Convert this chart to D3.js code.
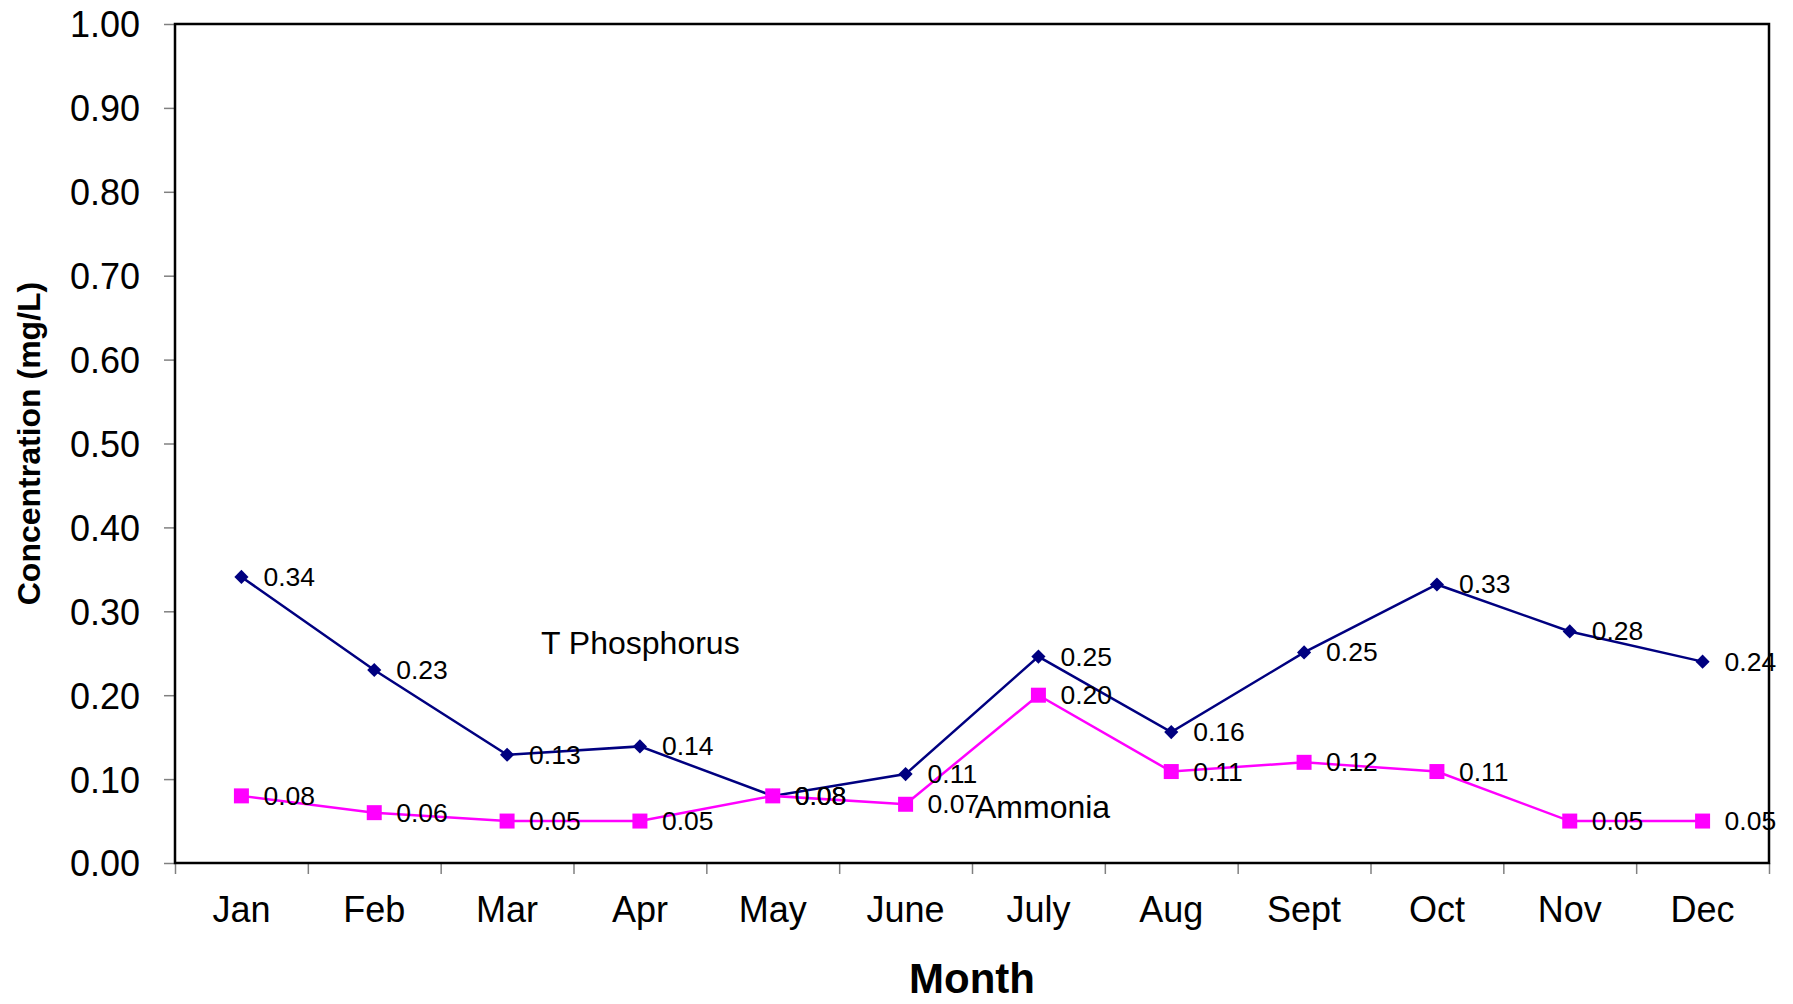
<!DOCTYPE html>
<html>
<head>
<meta charset="utf-8">
<script src="https://cdn.jsdelivr.net/npm/d3@7"></script>
<style>
  body { margin: 0; background: #fff; }
  text { font-family: "Liberation Sans", Arial, sans-serif; fill: #000; }
</style>
</head>
<body>
<div id="chart"></div>
<script>
const months = ["Jan", "Feb", "Mar", "Apr", "May", "June", "July", "Aug", "Sept", "Oct", "Nov", "Dec"];
const phosphorus = [0.341, 0.230, 0.129, 0.139, 0.080, 0.106, 0.246, 0.156, 0.251, 0.332, 0.276, 0.240];
const ammonia = [0.080, 0.060, 0.050, 0.050, 0.080, 0.070, 0.200, 0.109, 0.120, 0.109, 0.050, 0.050];
const yTicks = [0, 0.1, 0.2, 0.3, 0.4, 0.5, 0.6, 0.7, 0.8, 0.9, 1.0];

const width = 1793, height = 1004;
const plot = { left: 175, right: 1769, top: 24, bottom: 863 };

const svg = d3.select("#chart")
  .append("svg")
  .attr("width", width)
  .attr("height", height);

const x = d3.scaleBand()
  .domain(months)
  .range([plot.left, plot.right])
  .paddingInner(0)
  .paddingOuter(0);

const y = d3.scaleLinear()
  .domain([0, 1])
  .range([plot.bottom, plot.top]);

const fmt = d3.format(".2f");
const cx = (d, i) => x(months[i]) + x.bandwidth() / 2;

const series = [
  { name: "T Phosphorus", values: phosphorus, color: "#000080", marker: "diamond" },
  { name: "Ammonia", values: ammonia, color: "#FF00FF", marker: "square" }
];

// lines
const line = d3.line()
  .x(cx)
  .y(d => y(d));

series.forEach(s => {
  svg.append("path")
    .datum(s.values)
    .attr("d", line)
    .attr("fill", "none")
    .attr("stroke", s.color)
    .attr("stroke-width", 2.5);
});

// markers
series.forEach(s => {
  const sym = s.marker === "diamond"
    ? d3.symbol().type(d3.symbolSquare).size(100)
    : d3.symbol().type(d3.symbolSquare).size(225);
  svg.selectAll(".m-" + s.marker)
    .data(s.values)
    .enter()
    .append("path")
    .attr("class", "m-" + s.marker)
    .attr("d", sym)
    .attr("fill", s.color)
    .attr("transform", (d, i) => s.marker === "diamond"
      ? `translate(${cx(d, i)}, ${y(d)}) rotate(45)`
      : `translate(${cx(d, i)}, ${y(d)})`);
});

// data labels
series.forEach(s => {
  svg.selectAll(".lbl-" + s.marker)
    .data(s.values)
    .enter()
    .append("text")
    .attr("class", "lbl-" + s.marker)
    .attr("x", (d, i) => cx(d, i) + 22)
    .attr("y", d => y(d) + 9)
    .style("font-size", "26.5px")
    .text(d => fmt(d));
});

// series names
svg.append("text")
  .attr("x", 541)
  .attr("y", 654)
  .style("font-size", "32px")
  .text("T Phosphorus");

svg.append("text")
  .attr("x", 975)
  .attr("y", 818)
  .style("font-size", "32px")
  .text("Ammonia");

// y axis
const yAxis = svg.append("g")
  .attr("transform", `translate(${plot.left}, 0)`)
  .call(d3.axisLeft(y).tickValues(yTicks).tickSize(11).tickPadding(24).tickFormat(fmt));
yAxis.select(".domain").remove();
yAxis.selectAll(".tick line").attr("stroke", "#808080").attr("stroke-width", 1.5);
yAxis.selectAll(".tick text")
  .style("font-size", "36px")
  .attr("dy", "0.36em")
  .attr("fill", "#000");

// x axis: boundary ticks and month labels
const xb = d3.scaleLinear().domain([0, months.length]).range([plot.left, plot.right]);
const xTicks = svg.append("g")
  .attr("transform", `translate(0, ${plot.bottom})`)
  .call(d3.axisBottom(xb).ticks(months.length).tickSize(11).tickFormat(""));
xTicks.select(".domain").remove();
xTicks.selectAll(".tick line").attr("stroke", "#808080").attr("stroke-width", 1.5);

const xAxis = svg.append("g")
  .attr("transform", `translate(0, ${plot.bottom})`)
  .call(d3.axisBottom(x).tickSize(0).tickPadding(33));
xAxis.select(".domain").remove();
xAxis.selectAll(".tick text")
  .style("font-size", "36px")
  .attr("fill", "#000");

// plot frame
svg.append("rect")
  .attr("x", plot.left)
  .attr("y", plot.top)
  .attr("width", plot.right - plot.left)
  .attr("height", plot.bottom - plot.top)
  .attr("fill", "none")
  .attr("stroke", "#000")
  .attr("stroke-width", 2.5);

// axis titles
svg.append("text")
  .attr("x", (plot.left + plot.right) / 2)
  .attr("y", 993)
  .attr("text-anchor", "middle")
  .style("font-size", "42px")
  .style("font-weight", "bold")
  .text("Month");

svg.append("text")
  .attr("transform", `translate(29, ${(plot.top + plot.bottom) / 2}) rotate(-90)`)
  .attr("text-anchor", "middle")
  .attr("dominant-baseline", "central")
  .style("font-size", "32px")
  .style("font-weight", "bold")
  .text("Concentration (mg/L)");
</script>
</body>
</html>
